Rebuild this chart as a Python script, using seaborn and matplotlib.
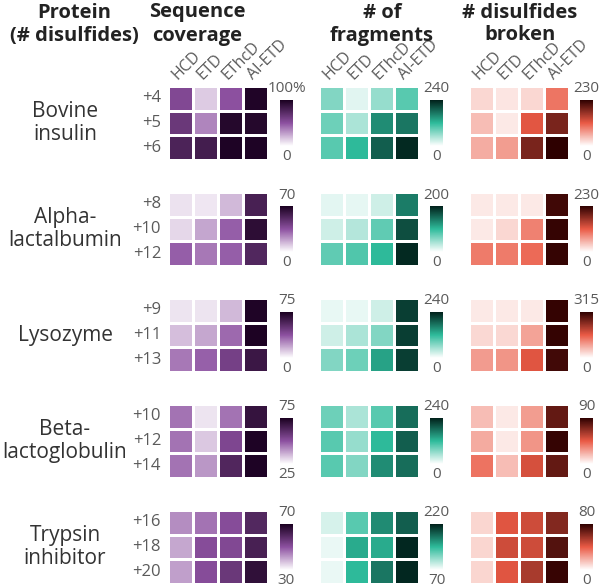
import numpy as np
import pandas as pd
import seaborn as sns
import matplotlib.pyplot as plt

# data
methods = ["HCD", "ETD", "EThcD", "AI-ETD"]
proteins = ["Bovine\ninsulin", "Alpha-\nlactalbumin", "Lysozyme", "Beta-\nlactoglobulin", "Trypsin\ninhibitor"]
charges = [["+4", "+5", "+6"], ["+8", "+10", "+12"], ["+9", "+11", "+13"],
           ["+10", "+12", "+14"], ["+16", "+18", "+20"]]

coverage = [
    [[55, 15, 50, 97], [65, 35, 95, 95], [78, 82, 98, 98]],
    [[6, 5, 14, 56], [8, 18, 32, 64], [32, 27, 32, 53]],
    [[6, 6, 15, 73], [14, 19, 32, 74], [29, 34, 45, 64]],
    [[45, 29, 45, 69], [45, 33, 53, 74], [45, 40, 63, 74]],
    [[43, 46, 51, 60], [40, 51, 52, 62], [41, 51, 56, 66]],
]
coverage_range = [(0, 100), (0, 70), (0, 75), (25, 75), (30, 70)]

fragments = [
    [[72, 17, 60, 96], [84, 48, 156, 173], [96, 120, 192, 233]],
    [[14, 12, 24, 140], [24, 36, 76, 170], [76, 84, 100, 194]],
    [[14, 14, 29, 216], [29, 48, 72, 216], [72, 84, 139, 216]],
    [[84, 48, 96, 180], [96, 60, 120, 192], [96, 72, 156, 180]],
    [[85, 130, 168, 190], [78, 153, 153, 216], [78, 145, 178, 216]],
]
fragments_range = [(0, 240), (0, 200), (0, 240), (0, 240), (70, 220)]

broken = [
    [[28, 18, 28, 97], [46, 16, 120, 184], [58, 69, 184, 230]],
    [[16, 16, 16, 219], [16, 28, 88, 225], [92, 92, 104, 225]],
    [[22, 22, 22, 309], [38, 38, 88, 309], [95, 101, 165, 299]],
    [[18, 6, 27, 77], [23, 6, 29, 88], [38, 18, 50, 77]],
    [[10, 42, 46, 62], [10, 46, 46, 72], [10, 42, 54, 78]],
]
broken_range = [(0, 230), (0, 230), (0, 315), (0, 90), (0, 80)]

cmaps = [
    sns.blend_palette(["#ffffff", "#8c50a0", "#1a0020"], as_cmap=True),
    sns.blend_palette(["#ffffff", "#2ebb9b", "#00201a"], as_cmap=True),
    sns.blend_palette(["#ffffff", "#ea5a45", "#2e0000"], as_cmap=True),
]

plt.rcParams["font.family"] = ["Open Sans", "DejaVu Sans"]

W, H = 600, 587
fig = plt.figure(figsize=(6, 5.87), dpi=100)


def rect(x, y, w, h):
    return [x / W, 1 - (y + h) / H, w / W, h / H]


# headers
hdr = dict(ha="center", va="center", fontsize=14.5, fontweight="bold", color="#222222", linespacing=1.2)
fig.text(74 / W, 1 - 24 / H, "Protein\n(# disulfides)", **hdr)
fig.text(197 / W, 1 - 24 / H, "Sequence\ncoverage", **hdr)
fig.text(382 / W, 1 - 24 / H, "# of\nfragments", **hdr)
fig.text(520 / W, 1 - 24 / H, "# disulfides\nbroken", **hdr)

heat_x = [168, 319, 469]
cbar_x = [280, 430, 580]
tops = [86, 192, 298, 404, 510]
metrics = [(coverage, coverage_range), (fragments, fragments_range), (broken, broken_range)]
grey = "#5a5a5a"

for i, protein in enumerate(proteins):
    top = tops[i]
    fig.text(65 / W, 1 - (top + 37) / H, protein, ha="center", va="center",
             fontsize=15, color="#333333", linespacing=1.1)
    for j, (values, ranges) in enumerate(metrics):
        vmin, vmax = ranges[i]
        df = pd.DataFrame(values[i], index=charges[i], columns=methods)
        ax = fig.add_axes(rect(heat_x[j], top, 100, 74))
        cax = fig.add_axes(rect(cbar_x[j], top + 14, 13, 46))
        sns.heatmap(df, ax=ax, cmap=cmaps[j], vmin=vmin, vmax=vmax,
                    linewidths=0.8, linecolor="white", cbar_ax=cax)
        ax.tick_params(length=0, labelsize=12, labelcolor=grey)
        if j == 0:
            ax.set_yticklabels(charges[i], rotation=0)
            ax.tick_params(axis="y", pad=5)
        else:
            ax.set_yticks([])
        if i == 0:
            ax.xaxis.tick_top()
            ax.set_xticklabels(methods, rotation=45, ha="left", va="bottom",
                               rotation_mode="anchor", fontsize=11.5)
            ax.tick_params(axis="x", pad=2)
        else:
            ax.set_xticks([])
        ax.set_xlabel("")
        ax.set_ylabel("")
        cax.set_yticks([])
        ax.collections[0].colorbar.outline.set_visible(False)
        top_lbl = f"{vmax}%" if (j == 0 and i == 0) else str(vmax)
        cax.text(0.5, 1 + 11 / 46, top_lbl, transform=cax.transAxes, ha="center", va="center",
                 fontsize=11, color=grey)
        cax.text(0.5, -10 / 46, str(vmin), transform=cax.transAxes, ha="center", va="center",
                 fontsize=11, color=grey)

fig.savefig("out.png", dpi=100)
